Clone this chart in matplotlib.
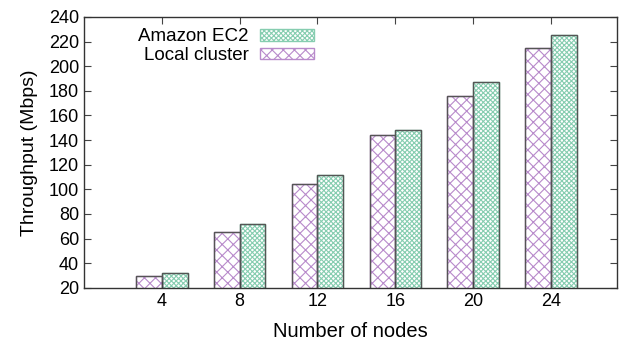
import numpy as np
import matplotlib
matplotlib.use('Agg')
import matplotlib.pyplot as plt

plt.rcParams['font.family'] = ['Liberation Sans', 'DejaVu Sans']
plt.rcParams['hatch.linewidth'] = 0.8

nodes = ['4', '8', '12', '16', '20', '24']
local_cluster = [30, 65, 104, 144, 176, 215]
amazon_ec2 = [32, 72, 112, 148, 187, 225]

purple = '#b88acb'
green = '#86cdb0'
edge = '#555555'

x = np.arange(len(nodes))
w = 0.33

fig = plt.figure(figsize=(6.25, 3.46), dpi=100)
ax = fig.add_axes([0.1344, 0.168, 0.853, 0.783])

# hatched fills (legend uses these)
ax.bar(x + w / 2, amazon_ec2, w, color='white', edgecolor=green,
       hatch='xxxxxxx', linewidth=1, label='Amazon EC2')
ax.bar(x - w / 2, local_cluster, w, color='white', edgecolor=purple,
       hatch='xxx', linewidth=1, label='Local cluster')
# grey outlines
ax.bar(x + w / 2, amazon_ec2, w, fill=False, edgecolor=edge, linewidth=1)
ax.bar(x - w / 2, local_cluster, w, fill=False, edgecolor=edge, linewidth=1)

ax.set_xlim(-1, 5.85)
ax.set_ylim(20, 240)
ax.set_yticks(np.arange(20, 241, 20))
ax.set_xticks(x)
ax.set_xticklabels(nodes)
ax.tick_params(direction='in', top=True, right=True, length=5, width=0.8,
               labelsize=13, color='#444444')
for s in ax.spines.values():
    s.set_linewidth(1)
    s.set_color('#333333')

ax.set_xlabel('Number of nodes', fontsize=14.5, labelpad=9)
ax.set_ylabel('Throughput (Mbps)', fontsize=14, labelpad=8)

ax.legend(loc='upper left', bbox_to_anchor=(0.08, 1.0), frameon=False,
          markerfirst=False, fontsize=13.5, handlelength=2.9, handleheight=0.6,
          labelspacing=0.1, handletextpad=0.6, borderaxespad=0.2)

fig.savefig('out.png', dpi=100)
